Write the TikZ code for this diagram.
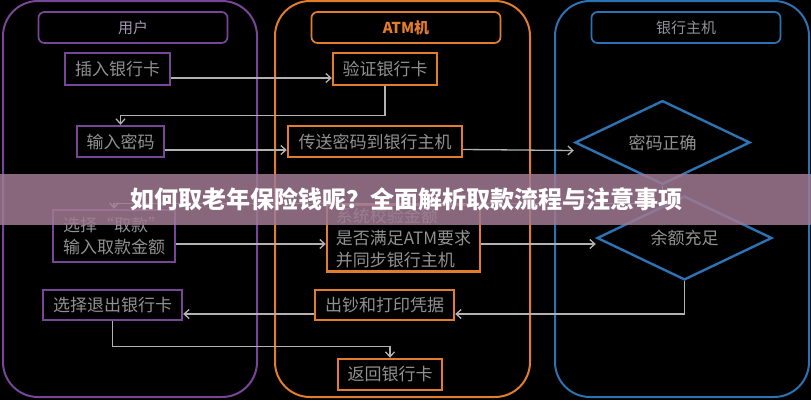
\documentclass[tikz,border=0pt]{standalone}
\usepackage{fontspec}
\newfontfamily\cjk{Noto Sans CJK SC}
\usetikzlibrary{shapes.geometric,arrows.meta}
\definecolor{userpurple}{RGB}{120,70,150}
\definecolor{atmorange}{RGB}{225,125,45}
\definecolor{bankblue}{RGB}{45,115,180}
\definecolor{boxtext}{RGB}{145,145,145}
\definecolor{bannerpink}{RGB}{160,122,148}

\begin{document}
\begin{tikzpicture}[x=1pt,y=-1pt,
	lane/.style={line width=2pt,rounded corners=35pt},
	head/.style={draw,line width=1.7pt,rounded corners=6pt,minimum width=189pt,minimum height=31pt,font=\cjk\fontsize{15}{18}\selectfont},
	stepbox/.style={draw,line width=2.4pt,inner sep=0pt,text=boxtext,font=\cjk\fontsize{17}{22}\selectfont},
	check/.style={diamond,draw=bankblue,line width=2.4pt,inner sep=0pt,minimum width=175pt,minimum height=61pt,text=boxtext,font=\cjk\fontsize{17}{20}\selectfont},
	flow/.style={draw=gray!60,line width=1.3pt,-{Straight Barb[length=5pt,width=9pt]}}
]

	\fill[black] (0,0) rectangle (811,400);
	\useasboundingbox (0,0) rectangle (811,400);

	\draw[lane,draw=userpurple] (3,1) rectangle (257,397);
	\draw[lane,draw=atmorange] (275,1) rectangle (530,397);
	\draw[lane,draw=bankblue] (555,1) rectangle (809,397);

	\node[head,draw=userpurple,text={rgb,255:red,165;green,150;blue,180}] at (133,27.5) (user) {用户};
	\node[head,draw=atmorange,text=atmorange,font=\cjk\bfseries\fontsize{15}{18}\selectfont] at (406,27.5) (atm) {ATM机};
	\node[head,draw=bankblue,text={rgb,255:red,145;green,145;blue,155}] at (686,27.5) (bank) {银行主机};

	\node[stepbox,draw=userpurple,minimum width=105pt,minimum height=32pt] at (117.5,69) (ins) {插入银行卡};
	\node[stepbox,draw=userpurple,minimum width=87pt,minimum height=31pt] at (120.5,141.5) (pwd) {输入密码};
	\node[stepbox,draw=userpurple,minimum width=122pt,minimum height=52pt,align=left] at (114,236) (amt) {选择“取款”\\输入取款金额};
	\node[stepbox,draw=userpurple,minimum width=139pt,minimum height=30pt] at (112.5,305) (quit) {选择退出银行卡};

	\node[stepbox,draw=atmorange,minimum width=104pt,minimum height=32pt] at (385,69) (verify) {验证银行卡};
	\node[stepbox,draw=atmorange,minimum width=174pt,minimum height=31pt] at (375,141.5) (send) {传送密码到银行主机};
	\node[stepbox,draw=atmorange,minimum width=153pt,minimum height=67pt,align=left] at (403.5,238) (sys) {系统校验金额\\是否满足ATM要求\\并同步银行主机};
	\node[stepbox,draw=atmorange,minimum width=139pt,minimum height=30pt] at (384.5,305) (cash) {出钞和打印凭据};
	\node[stepbox,draw=atmorange,minimum width=104pt,minimum height=31pt] at (390,374.5) (ret) {返回银行卡};

	\node[check] at (662.5,142.5) (okpwd) {密码正确};
	\node[check] at (684.5,238) (okbal) {余额充足};

	\draw[flow] ([yshift=-9pt]ins.east) -- ([yshift=-9pt]verify.west);
	\draw[flow] (verify.south) -- ++(0,29) -| (pwd.north);
	\draw[flow] ([yshift=-8.5pt]pwd.east) -- ([yshift=-8.5pt]send.west);
	\draw[flow] ([yshift=-8pt]send.east) -- ([yshift=-8pt]okpwd.west);
	\draw[flow] (okpwd.south) -- ++(0,18) -| (amt.north);
	\draw[flow] ([yshift=-8pt]amt.east) -- ([yshift=-6pt]sys.west);
	\draw[flow] ([yshift=-6pt]sys.east) -- ([yshift=-6pt]okbal.west);
	\draw[flow] (okbal.south) |- ([yshift=-9pt]cash.east);
	\draw[flow] ([yshift=-9pt]cash.west) -- ([yshift=-9pt]quit.east);
	\draw[flow] (quit.south) -- ++(0,25) -| (ret.north);

	\fill[bannerpink,opacity=0.85] (0,174) rectangle (811,225);
	\node[text=white,font=\cjk\bfseries\fontsize{24}{27}\selectfont] at (406,199.5) (title) {如何取老年保险钱呢？全面解析取款流程与注意事项};

\end{tikzpicture}
\end{document}
